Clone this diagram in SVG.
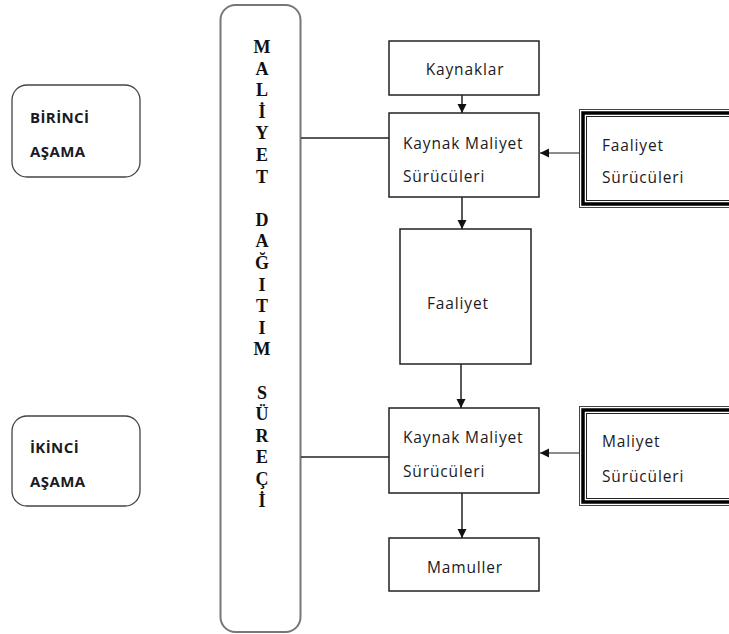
<svg xmlns="http://www.w3.org/2000/svg" width="729" height="634" viewBox="0 0 729 634">
<defs>
<style>
.t{font-family:"Open Sans","Liberation Sans",sans-serif;font-size:15.5px;fill:#1a1a24;letter-spacing:0.85px}
.b{font-family:"Open Sans","Liberation Sans",sans-serif;font-size:15px;font-weight:bold;fill:#1a1a24;letter-spacing:0.4px}
.v{font-family:"Liberation Serif","Times New Roman",serif;font-size:18px;font-weight:bold;fill:#111;text-anchor:middle}
.box{fill:#fff;stroke:#222;stroke-width:1.5}
.rbox{fill:#fff;stroke:#444;stroke-width:1.3}
.ln{stroke:#222;stroke-width:1.5;fill:none}
.gl{stroke:#666;stroke-width:1.5;fill:none}
</style>
<marker id="ah" markerWidth="10" markerHeight="10" refX="9" refY="5" orient="auto" markerUnits="userSpaceOnUse">
<path d="M0,0.5 L9,5 L0,9.5 Z" fill="#111"/>
</marker>
</defs>
<rect width="729" height="634" fill="#fff"/>

<g id="birinci">
<rect class="rbox" x="12" y="85" width="128" height="92" rx="15"/>
<text class="b" x="30" y="123">BİRİNCİ</text>
<text class="b" x="30" y="157">AŞAMA</text>
</g>

<g id="ikinci">
<rect class="rbox" x="12" y="416" width="128" height="90" rx="15"/>
<text class="b" x="30" y="453">İKİNCİ</text>
<text class="b" x="30" y="487">AŞAMA</text>
</g>

<g id="surec">
<rect x="220.5" y="5" width="80" height="627" rx="15" fill="#fff" stroke="#777" stroke-width="2"/>
<text class="v"><tspan x="262" y="53">M</tspan><tspan x="262" y="74.6">A</tspan><tspan x="262" y="96.2">L</tspan><tspan x="262" y="117.8">İ</tspan><tspan x="262" y="139.4">Y</tspan><tspan x="262" y="161">E</tspan><tspan x="262" y="182.6">T</tspan><tspan x="262" y="225.8">D</tspan><tspan x="262" y="247.4">A</tspan><tspan x="262" y="269">Ğ</tspan><tspan x="262" y="290.6">I</tspan><tspan x="262" y="312.2">T</tspan><tspan x="262" y="333.8">I</tspan><tspan x="262" y="355.4">M</tspan><tspan x="262" y="398.6">S</tspan><tspan x="262" y="420.2">Ü</tspan><tspan x="262" y="441.8">R</tspan><tspan x="262" y="463.4">E</tspan><tspan x="262" y="485">Ç</tspan><tspan x="262" y="506.6">İ</tspan></text>
</g>

<g id="kaynaklar">
<rect class="box" x="389" y="41" width="150" height="54"/>
<text class="t" x="465" y="75" text-anchor="middle">Kaynaklar</text>
</g>

<g id="kms1">
<rect class="box" x="389" y="113" width="150" height="84"/>
<text class="t" x="403" y="149">Kaynak Maliyet</text>
<text class="t" x="403" y="182">Sürücüleri</text>
</g>

<g id="faaliyet">
<rect class="box" x="400" y="229" width="131" height="135"/>
<text class="t" x="427" y="309">Faaliyet</text>
</g>

<g id="kms2">
<rect class="box" x="389" y="408" width="150" height="85"/>
<text class="t" x="403" y="443">Kaynak Maliyet</text>
<text class="t" x="403" y="477">Sürücüleri</text>
</g>

<g id="mamuller">
<rect class="box" x="389" y="538" width="150" height="53"/>
<text class="t" x="465" y="573" text-anchor="middle">Mamuller</text>
</g>

<g id="faaliyet-suruculeri">
<rect x="579.5" y="109.5" width="160" height="98" fill="#fff" stroke="#444" stroke-width="1"/>
<rect x="583" y="113" width="160" height="91" fill="none" stroke="#000" stroke-width="3.5"/>
<rect x="586.5" y="116.5" width="160" height="84" fill="none" stroke="#222" stroke-width="1"/>
<text class="t" x="602" y="151">Faaliyet</text>
<text class="t" x="602" y="183">Sürücüleri</text>
</g>

<g id="maliyet-suruculeri">
<rect x="579.5" y="406.5" width="160" height="99" fill="#fff" stroke="#444" stroke-width="1"/>
<rect x="583" y="410" width="160" height="92" fill="none" stroke="#000" stroke-width="3.5"/>
<rect x="586.5" y="413.5" width="160" height="85" fill="none" stroke="#222" stroke-width="1"/>
<text class="t" x="602" y="447">Maliyet</text>
<text class="t" x="602" y="482">Sürücüleri</text>
</g>

<g id="connectors">
<line class="ln" x1="301" y1="138" x2="389" y2="138"/>
<line class="ln" x1="301" y1="457" x2="389" y2="457"/>
<line class="ln" x1="462" y1="95" x2="462" y2="113" marker-end="url(#ah)"/>
<line class="ln" x1="462" y1="197" x2="462" y2="229" marker-end="url(#ah)"/>
<line class="ln" x1="461" y1="364" x2="461" y2="408" marker-end="url(#ah)"/>
<line class="ln" x1="462" y1="493" x2="462" y2="538" marker-end="url(#ah)"/>
<line class="gl" x1="579" y1="153" x2="540" y2="153" marker-end="url(#ah)"/>
<line class="gl" x1="579" y1="453" x2="540" y2="453" marker-end="url(#ah)"/>
</g>
</svg>
